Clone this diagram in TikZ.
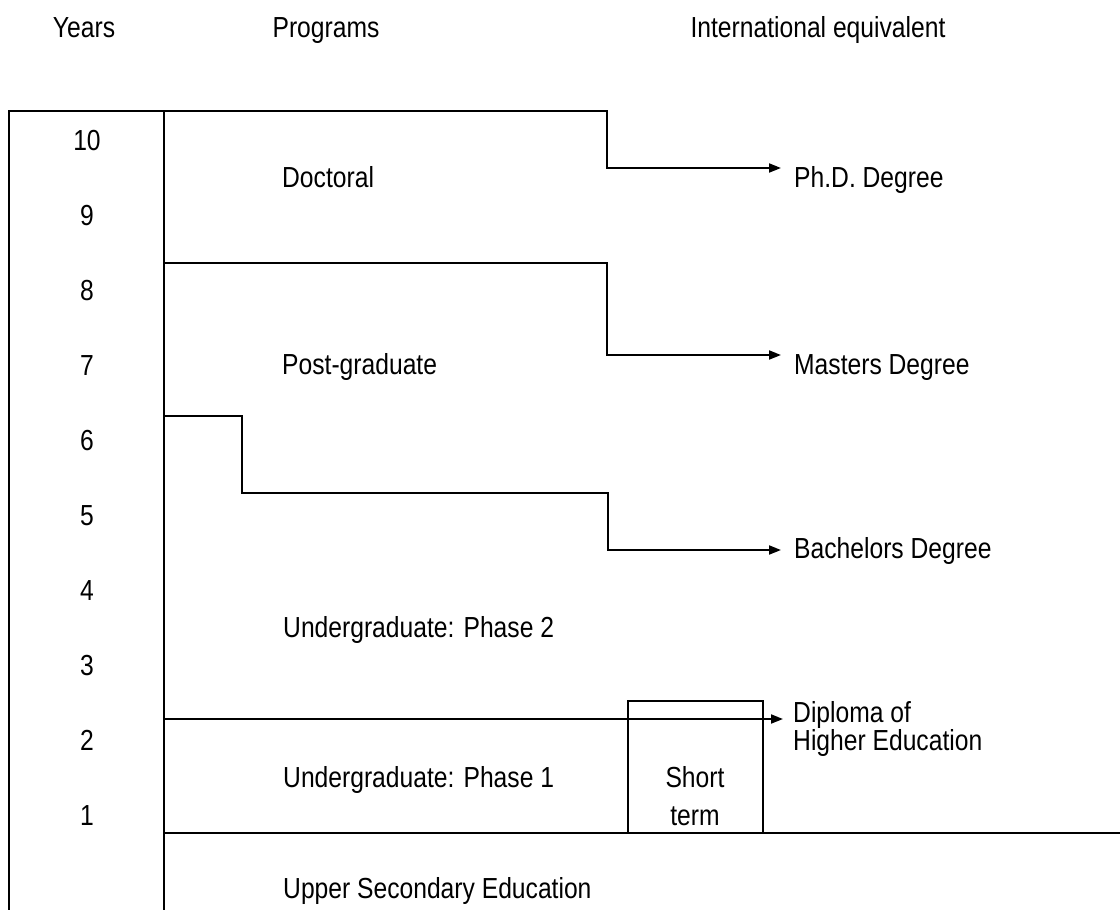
\documentclass[tikz,border=0pt]{standalone}
\usepackage{fontspec}
\setmainfont{Liberation Sans}[FakeStretch=0.85]
\usetikzlibrary{arrows.meta}
\begin{document}
\begin{tikzpicture}[x=1pt,y=-1pt,
  txt/.style={inner sep=0pt, font=\fontsize{29}{34}\selectfont},
  lbl/.style={txt, anchor=base west},
  ctr/.style={txt, anchor=base},
  ln/.style={line width=1.9pt, line join=miter},
  conn/.style={ln, -{Triangle[length=12pt,width=9pt]}}]
\useasboundingbox (0,0) rectangle (1120,910);
% headers
\node[ctr] (hyears) at (84,37) {Years};
\node[ctr] (hprog) at (326,37) {Programs};
\node[ctr] (hint) at (818,37) {International equivalent};
% years column
\draw[ln] (9,910) -- (9,111) -- (164,111) -- (164,910);
\foreach \n [count=\i from 0] in {10,9,8,7,6,5,4,3,2,1}
  \node[ctr] (y\n) at (87,150+75*\i) {\n};
% programme labels
\node[lbl] (doc) at (282,187) {Doctoral};
\node[lbl] (post) at (282,374) {Post-graduate};
\node[lbl] (ug2) at (283,637) {Undergraduate: Phase 2};
\node[lbl] (ug1) at (283,787) {Undergraduate: Phase 1};
\node[lbl] (use) at (283,898) {Upper Secondary Education};
% equivalents
\node[lbl] (phd) at (794,187) {Ph.D. Degree};
\node[lbl] (ms) at (794,374) {Masters Degree};
\node[lbl] (ba) at (794,558) {Bachelors Degree};
\node[lbl] (dip1) at (793,722) {Diploma of};
\node[lbl] (dip2) at (793,750) {Higher Education};
% short term box
\draw[ln] (628,701) rectangle (763,833);
\node[ctr] (short) at (695,787) {Short};
\node[ctr] (term) at (695,825) {term};
% connectors
\coordinate (s1) at (164,111);
\coordinate (t1) at (781,168);
\coordinate (s2) at (164,263);
\coordinate (t2) at (781,355);
\coordinate (s3) at (164,416);
\coordinate (t3) at (781,550);
\coordinate (s4) at (164,719);
\coordinate (t4) at (783,719);
\coordinate (s5) at (164,833);
\coordinate (t5) at (1120,833);
\draw[conn] (s1) -- (607,111) -- (607,168) -- (t1);
\draw[conn] (s2) -- (607,263) -- (607,355) -- (t2);
\draw[conn] (s3) -- (242,416) -- (242,493) -- (608,493) -- (608,550) -- (t3);
\draw[conn] (s4) -- (t4);
\draw[ln] (s5) -- (t5);
\end{tikzpicture}
\end{document}
